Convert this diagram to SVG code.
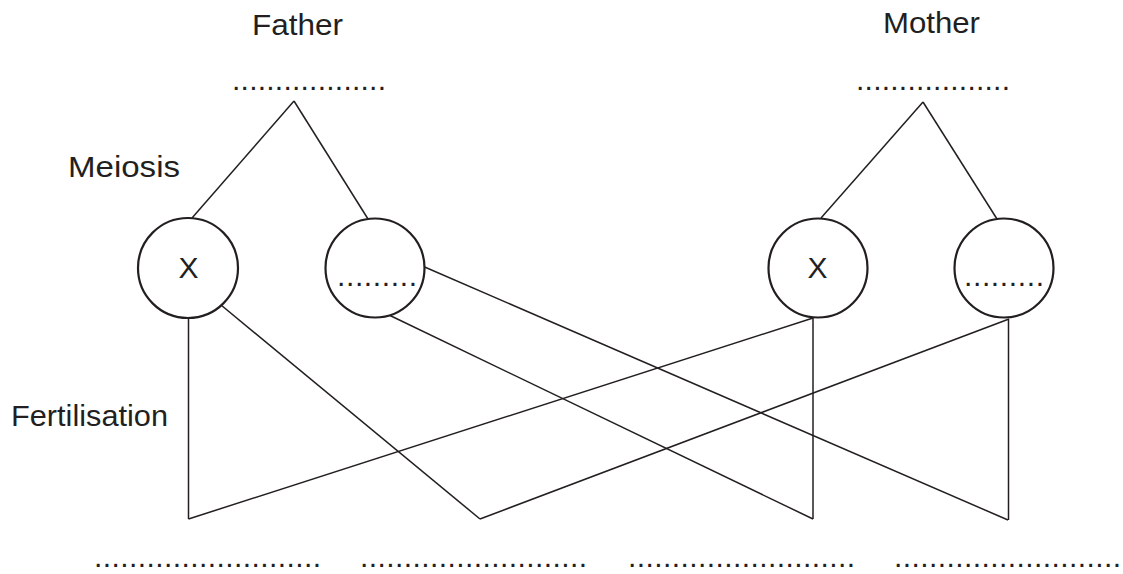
<svg xmlns="http://www.w3.org/2000/svg" width="1123" height="574" viewBox="0 0 1123 574">
  <style>
    .lbl { font-family: "Liberation Sans", Arial, sans-serif; font-size: 30px; fill: #231f20; }
    .dots { font-family: "Liberation Sans", Arial, sans-serif; font-size: 30px; fill: #231f20; }
    .node circle { fill: #ffffff; stroke: #231f20; stroke-width: 2.2; }
    .conn line { stroke: #231f20; stroke-width: 1.5; fill: none; }
  </style>
  <rect width="1123" height="574" fill="#ffffff"/>

  <g id="labels">
    <text class="lbl" x="252" y="35" textLength="91" lengthAdjust="spacingAndGlyphs">Father</text>
    <text class="lbl" x="883" y="33" textLength="97" lengthAdjust="spacingAndGlyphs">Mother</text>
    <text class="lbl" x="68" y="177" textLength="112" lengthAdjust="spacingAndGlyphs">Meiosis</text>
    <text class="lbl" x="11" y="426" textLength="157" lengthAdjust="spacingAndGlyphs">Fertilisation</text>
  </g>

  <g class="conn" id="connectors">
    <line x1="294" y1="101" x2="192" y2="218"/>
    <line x1="294" y1="101" x2="368" y2="219"/>
    <line x1="923" y1="102" x2="821" y2="218"/>
    <line x1="923" y1="102" x2="997" y2="219"/>
    <line x1="188.5" y1="318" x2="188.5" y2="519"/>
    <line x1="188.5" y1="519" x2="813" y2="318"/>
    <line x1="221" y1="305" x2="480" y2="519"/>
    <line x1="480" y1="519" x2="1009" y2="319"/>
    <line x1="389" y1="315" x2="813" y2="519"/>
    <line x1="420" y1="265" x2="1008" y2="520"/>
    <line x1="813" y1="318" x2="813" y2="519"/>
    <line x1="1008.5" y1="319" x2="1008.5" y2="520"/>
  </g>

  <g id="father-genotype">
    <text class="dots" x="232" y="90" textLength="154" lengthAdjust="spacing">..................</text>
  </g>
  <g id="mother-genotype">
    <text class="dots" x="856" y="90" textLength="154" lengthAdjust="spacing">..................</text>
  </g>

  <g class="node" id="father-gamete-x">
    <circle cx="188" cy="268" r="50"/>
    <text class="lbl" x="188.5" y="278" text-anchor="middle">X</text>
  </g>
  <g class="node" id="father-gamete-2">
    <circle cx="375" cy="268" r="49.5"/>
    <text class="dots" x="337" y="286" textLength="80" lengthAdjust="spacing">.........</text>
  </g>
  <g class="node" id="mother-gamete-x">
    <circle cx="818" cy="268" r="49.5"/>
    <text class="lbl" x="817.5" y="278" text-anchor="middle">X</text>
  </g>
  <g class="node" id="mother-gamete-2">
    <circle cx="1004" cy="268" r="49.5"/>
    <text class="dots" x="964" y="286" textLength="80" lengthAdjust="spacing">.........</text>
  </g>

  <g id="offspring">
    <text class="dots" x="94" y="567" textLength="227" lengthAdjust="spacing">..........................</text>
    <text class="dots" x="360" y="567" textLength="227" lengthAdjust="spacing">..........................</text>
    <text class="dots" x="628" y="567" textLength="227" lengthAdjust="spacing">..........................</text>
    <text class="dots" x="894" y="567" textLength="227" lengthAdjust="spacing">..........................</text>
  </g>
</svg>
